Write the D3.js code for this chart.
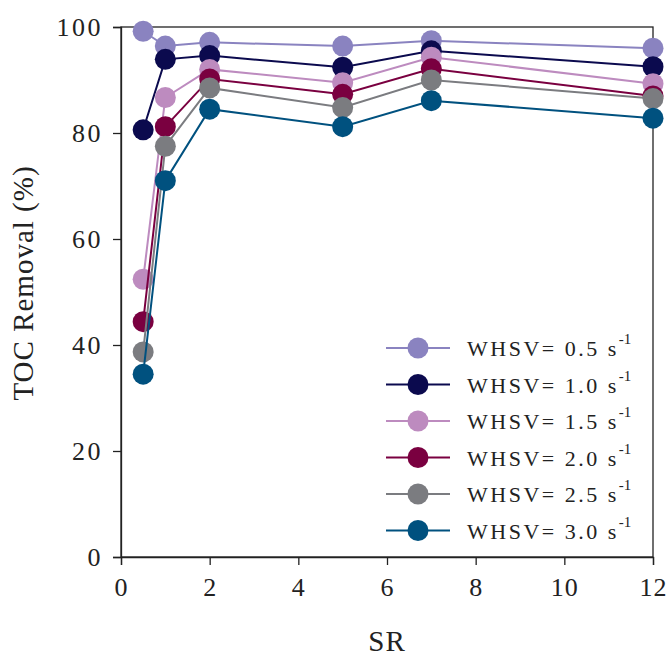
<!DOCTYPE html>
<html>
<head>
<meta charset="utf-8">
<script src="https://cdn.jsdelivr.net/npm/d3@7"></script>
<style>
  html, body { margin: 0; padding: 0; background: #fff; }
  svg { display: block; }
  text { font-family: "Liberation Serif", "Times New Roman", serif; fill: #222; }
</style>
</head>
<body>
<div id="chart"></div>
<script>
// Space ratio values on the x axis
const sr = [0.5, 1, 2, 5, 7, 12];

// TOC removal (%) for each WHSV
const whsv05 = [99.2, 96.4, 97.1, 96.4, 97.4, 96.0];
const whsv10 = [80.6, 93.9, 94.6, 92.4, 95.5, 92.5];
const whsv15 = [52.4, 86.7, 92.0, 89.5, 94.3, 89.3];
const whsv20 = [44.4, 81.2, 90.2, 87.3, 92.1, 87.0];
const whsv25 = [38.7, 77.5, 88.5, 84.8, 90.0, 86.5];
const whsv30 = [34.5, 71.0, 84.5, 81.2, 86.1, 82.8];

const seriesLabels = ["0.5", "1.0", "1.5", "2.0", "2.5", "3.0"];
const seriesColors = ["#8a83c0", "#0b0a4e", "#bd8bbf", "#7a0040", "#7b7c80", "#00517f"];
const seriesValues = [whsv05, whsv10, whsv15, whsv20, whsv25, whsv30];

const xTicks = [0, 2, 4, 6, 8, 10, 12];
const yTicks = [0, 20, 40, 60, 80, 100];

const W = 667, H = 657;
const margin = { top: 27, right: 14, bottom: 100, left: 121 };
const iw = W - margin.left - margin.right;
const ih = H - margin.top - margin.bottom;

const svg = d3.select("#chart").append("svg").attr("width", W).attr("height", H);
const g = svg.append("g").attr("transform", `translate(${margin.left},${margin.top})`);

const x = d3.scaleLinear().domain([0, 12]).range([0, iw]);
const y = d3.scaleLinear().domain([0, 100]).range([ih, 0]);

// Plot frame
g.append("rect").attr("x", 0).attr("y", 0).attr("width", iw).attr("height", ih)
  .attr("fill", "none").attr("stroke", "#222").attr("stroke-width", 1.3);

// Axes
const xAxis = g.append("g").attr("transform", `translate(0,${ih})`)
  .call(d3.axisBottom(x).tickValues(xTicks).tickSize(8).tickPadding(13).tickFormat(d3.format("d")));
const yAxis = g.append("g")
  .call(d3.axisLeft(y).tickValues(yTicks).tickSize(8).tickPadding(10).tickFormat(d3.format("d")));
[xAxis, yAxis].forEach(a => {
  a.select(".domain").attr("stroke", "#222").attr("stroke-width", 1.3);
  a.selectAll(".tick line").attr("stroke", "#222").attr("stroke-width", 1.3);
  a.selectAll(".tick text").attr("font-size", 26).attr("fill", "#222")
    .style("font-family", "'Liberation Serif', serif").style("letter-spacing", "2.5px");
});
xAxis.selectAll(".tick text").attr("dy", "0.71em").style("letter-spacing", "1px");

// Axis titles
svg.append("text").attr("x", margin.left + iw / 2).attr("y", 651)
  .attr("text-anchor", "middle").attr("font-size", 29).style("letter-spacing", "1px").text("SR");
svg.append("text").attr("transform", `translate(33,283) rotate(-90)`)
  .attr("text-anchor", "middle").attr("font-size", 29).style("letter-spacing", "1px").text("TOC Removal (%)");

// Lines and markers, one series at a time
const line = d3.line().x((d, i) => x(sr[i])).y(d => y(d));
seriesValues.forEach((vals, s) => {
  const sg = g.append("g");
  sg.append("path").datum(vals).attr("d", line).attr("fill", "none")
    .attr("stroke", seriesColors[s]).attr("stroke-width", 2);
  sg.selectAll("circle").data(vals).join("circle")
    .attr("cx", (d, i) => x(sr[i])).attr("cy", d => y(d)).attr("r", 10.5)
    .attr("fill", seriesColors[s]);
});

// Legend
const legend = svg.append("g").attr("transform", "translate(386,348)");
seriesLabels.forEach((lab, i) => {
  const row = legend.append("g").attr("transform", `translate(0,${i * 36.5})`);
  row.append("line").attr("x1", 0).attr("x2", 64).attr("y1", 0).attr("y2", 0)
    .attr("stroke", seriesColors[i]).attr("stroke-width", 2);
  row.append("circle").attr("cx", 32).attr("cy", 0).attr("r", 10.5).attr("fill", seriesColors[i]);
  const t = row.append("text").attr("x", 81).attr("y", 8).attr("font-size", 22)
    .style("letter-spacing", "2.5px");
  t.append("tspan").text(`WHSV= ${lab} s`);
  t.append("tspan").attr("font-size", 15).attr("dy", -12).style("letter-spacing", "0px").text("-1");
});
</script>
</body>
</html>
